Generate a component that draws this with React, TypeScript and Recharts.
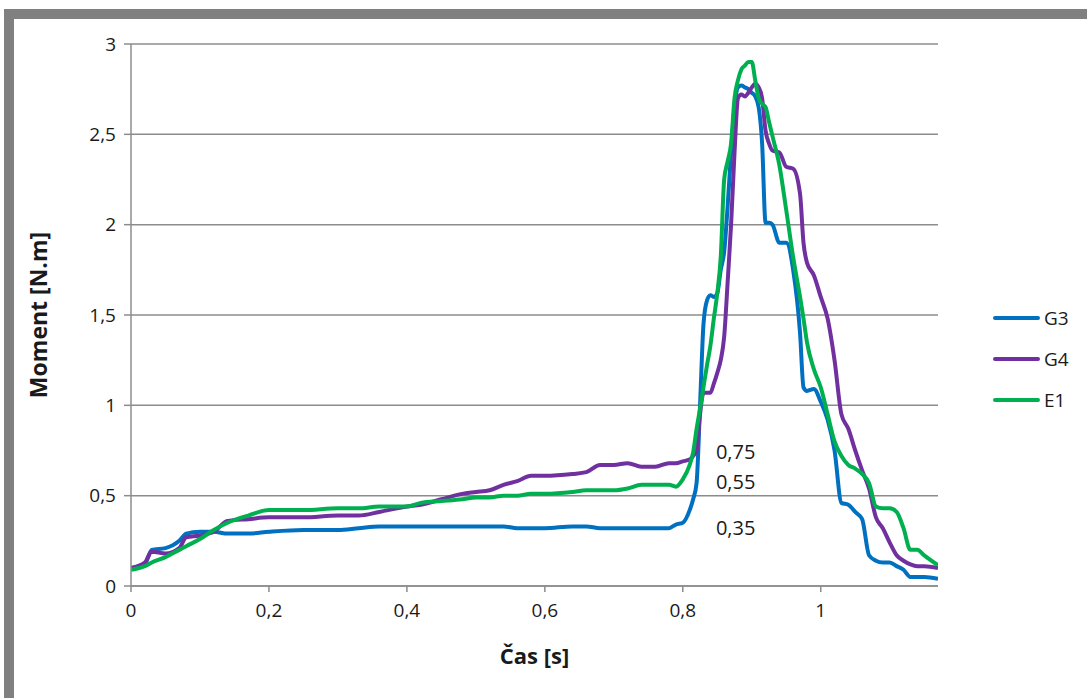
import { LineChart, Line, XAxis, YAxis, CartesianGrid, ReferenceDot } from 'recharts';

const time = [
  0, 0.02, 0.03, 0.05, 0.07, 0.08, 0.1, 0.12, 0.14, 0.17, 0.2, 0.25, 0.3, 0.33, 0.36, 0.4,
  0.42, 0.45, 0.48, 0.5, 0.52, 0.54, 0.56, 0.58, 0.6, 0.64, 0.66, 0.68, 0.7, 0.72, 0.74, 0.76,
  0.78, 0.79, 0.8, 0.81, 0.815, 0.82, 0.825, 0.83, 0.835, 0.84, 0.845, 0.85, 0.855, 0.86, 0.865,
  0.87, 0.875, 0.88, 0.885, 0.89, 0.895, 0.9, 0.905, 0.91, 0.915, 0.92, 0.925, 0.93, 0.94, 0.95,
  0.96, 0.97, 0.975, 0.98, 0.99, 1.0, 1.01, 1.02, 1.03, 1.04, 1.05, 1.06, 1.07, 1.08, 1.09, 1.1,
  1.11, 1.12, 1.13, 1.14, 1.15, 1.17,
];

const g3 = [
  0.1, 0.12, 0.2, 0.21, 0.25, 0.29, 0.3, 0.3, 0.29, 0.29, 0.3, 0.31, 0.31, 0.32, 0.33, 0.33,
  0.33, 0.33, 0.33, 0.33, 0.33, 0.33, 0.32, 0.32, 0.32, 0.33, 0.33, 0.32, 0.32, 0.32, 0.32, 0.32,
  0.32, 0.34, 0.35, 0.42, 0.48, 0.57, 1.0, 1.45, 1.58, 1.61, 1.6, 1.62, 1.75, 1.85, 2.1,
  2.4, 2.65, 2.76, 2.77, 2.76, 2.75, 2.73, 2.71, 2.65, 2.45, 2.01, 2.01, 2.0, 1.9, 1.9,
  1.75, 1.4, 1.1, 1.08, 1.09, 1.02, 0.92, 0.75, 0.46, 0.45, 0.41, 0.37, 0.17, 0.14, 0.13, 0.13,
  0.11, 0.09, 0.05, 0.05, 0.05, 0.04,
];

const g4 = [
  0.1, 0.13, 0.19, 0.18, 0.21, 0.27, 0.28, 0.3, 0.36, 0.37, 0.38, 0.38, 0.39, 0.39, 0.41, 0.44,
  0.45, 0.48, 0.51, 0.52, 0.53, 0.56, 0.58, 0.61, 0.61, 0.62, 0.63, 0.67, 0.67, 0.68, 0.66, 0.66,
  0.68, 0.68, 0.69, 0.7, 0.72, 0.75, 0.95, 1.07, 1.07, 1.07, 1.12, 1.18, 1.25, 1.38, 1.68,
  2.0, 2.4, 2.7, 2.72, 2.71, 2.73, 2.76, 2.78, 2.76, 2.7, 2.52, 2.45, 2.41, 2.4, 2.32,
  2.31, 2.17, 1.9, 1.79, 1.72, 1.6, 1.48, 1.25, 0.95, 0.87, 0.75, 0.64, 0.54, 0.38, 0.32, 0.24,
  0.17, 0.14, 0.12, 0.11, 0.11, 0.1,
];

const e1 = [
  0.09, 0.11, 0.13, 0.16, 0.2, 0.22, 0.26, 0.31, 0.35, 0.39, 0.42, 0.42, 0.43, 0.43, 0.44, 0.44,
  0.46, 0.47, 0.48, 0.49, 0.49, 0.5, 0.5, 0.51, 0.51, 0.52, 0.53, 0.53, 0.53, 0.54, 0.56, 0.56,
  0.56, 0.55, 0.59, 0.67, 0.74, 0.87, 0.98, 1.1, 1.22, 1.33, 1.48, 1.62, 1.82, 2.25, 2.35,
  2.45, 2.7, 2.8, 2.86, 2.88, 2.9, 2.9, 2.8, 2.7, 2.67, 2.65, 2.57, 2.49, 2.33, 2.08,
  1.82, 1.6, 1.48, 1.35, 1.2, 1.1, 0.95, 0.8, 0.72, 0.67, 0.65, 0.62, 0.57, 0.44, 0.43, 0.43,
  0.41, 0.32, 0.2, 0.2, 0.17, 0.115,
];

const seriesNames = ['G3', 'G4', 'E1'];
const seriesColors = ['#0070C0', '#7030A0', '#00B050'];

const xTicks = [0, 0.2, 0.4, 0.6, 0.8, 1];
const yTicks = [0, 0.5, 1, 1.5, 2, 2.5, 3];

const noteX = [0.848, 0.848, 0.848];
const noteY = [0.74, 0.575, 0.32];
const noteText = ['0,75', '0,55', '0,35'];

const data = time.map((t, i) => ({ t, G3: g3[i], G4: g4[i], E1: e1[i] }));

const FONT = '"Open Sans", sans-serif';
const comma = (v: number) => String(v).replace('.', ',');

const NoteLabel = (props: any) => {
  const { viewBox, value } = props;
  return (
    <text x={viewBox.x} y={viewBox.y} dy="0.35em" fontFamily={FONT} fontSize={20} fill="#1a1a1a">
      {value}
    </text>
  );
};

export default function App() {
  return (
    <div style={{ position: 'absolute', left: 0, top: 0, width: 1087, height: 698, background: '#fff', overflow: 'hidden' }}>
      <div style={{ position: 'absolute', left: 4, top: 9, right: 0, height: 10, background: '#808080' }} />
      <div style={{ position: 'absolute', left: 4, top: 9, width: 10, bottom: 0, background: '#808080' }} />
      <div style={{ position: 'absolute', left: 0, top: 0 }}>
        <LineChart
          width={1087}
          height={698}
          data={data}
          margin={{ top: 44, right: 149, bottom: 62, left: 20 }}
        >
          <CartesianGrid vertical={false} stroke="#8c8c8c" strokeWidth={1.5} />
          <XAxis
            type="number"
            dataKey="t"
            domain={[0, 1.17]}
            ticks={xTicks}
            allowDataOverflow
            tickFormatter={comma}
            stroke="#8c8c8c"
            strokeWidth={1.5}
            tickSize={6}
            tickMargin={12}
            height={50}
            tick={{ fill: '#1a1a1a', fontFamily: FONT, fontSize: 19 }}
            label={{
              content: (p: any) => (
                <text
                  x={p.viewBox.x + p.viewBox.width / 2}
                  y={655}
                  textAnchor="middle"
                  dominantBaseline="central"
                  fontFamily={FONT}
                  fontWeight="bold"
                  fontSize={22}
                  fill="#1a1a1a"
                >
                  Čas [s]
                </text>
              ),
            }}
          />
          <YAxis
            type="number"
            domain={[0, 3]}
            ticks={yTicks}
            tickFormatter={comma}
            stroke="#8c8c8c"
            strokeWidth={1.5}
            tickSize={7}
            tickMargin={8}
            width={111}
            tick={{ fill: '#1a1a1a', fontFamily: FONT, fontSize: 19 }}
            label={{
              content: (p: any) => {
                const cy = p.viewBox.y + p.viewBox.height / 2;
                return (
                  <text
                    x={38}
                    y={cy}
                    transform={`rotate(-90, 38, ${cy})`}
                    textAnchor="middle"
                    dominantBaseline="central"
                    fontFamily={FONT}
                    fontWeight="bold"
                    fontSize={23}
                    fill="#1a1a1a"
                  >
                    Moment [N.m]
                  </text>
                );
              },
            }}
          />
          {seriesNames.map((name, i) => (
            <Line
              key={name}
              type="monotone"
              dataKey={name}
              stroke={seriesColors[i]}
              strokeWidth={4}
              dot={false}
              isAnimationActive={false}
            />
          ))}
          {noteText.map((txt, i) => (
            <ReferenceDot
              key={txt}
              x={noteX[i]}
              y={noteY[i]}
              r={0}
              stroke="none"
              fill="none"
              label={<NoteLabel value={txt} />}
            />
          ))}
        </LineChart>
      </div>
      {seriesNames.map((name, i) => (
        <div
          key={name}
          style={{
            position: 'absolute',
            left: 993,
            top: 318 + i * 41 - 12,
            height: 24,
            display: 'flex',
            alignItems: 'center',
            fontFamily: FONT,
            fontSize: 19,
            color: '#1a1a1a',
          }}
        >
          <div style={{ width: 47, height: 4, borderRadius: 2, background: seriesColors[i], marginRight: 4 }} />
          {name}
        </div>
      ))}
    </div>
  );
}
